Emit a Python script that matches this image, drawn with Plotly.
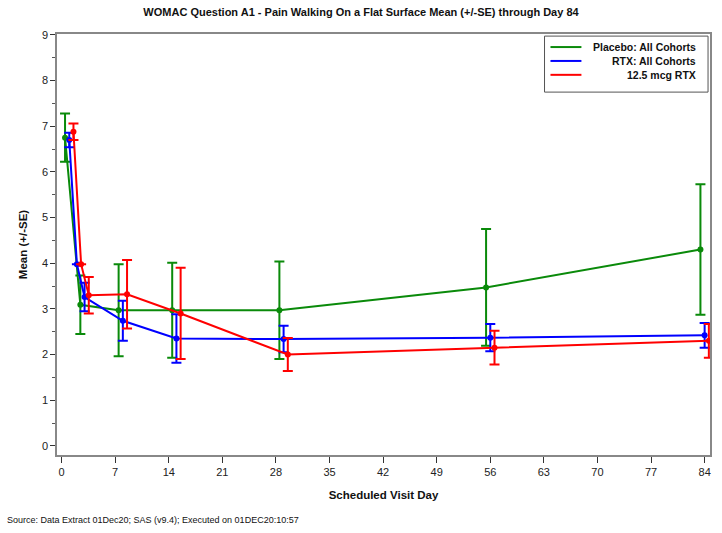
import plotly.graph_objects as go

# ---- data ----
series_names = ["Placebo: All Cohorts", "RTX: All Cohorts", "12.5 mcg RTX"]

placebo_days = [1, 3, 8, 15, 29, 56, 84]
placebo_mean = [6.75, 3.09, 2.97, 2.97, 2.97, 3.47, 4.30]
placebo_se = [0.53, 0.64, 1.01, 1.04, 1.07, 1.28, 1.43]

rtx_days = [1, 2, 3, 8, 15, 29, 56, 84]
rtx_mean = [6.70, 3.98, 3.26, 2.74, 2.35, 2.34, 2.37, 2.42]
rtx_se = [0.16, 0.0, 0.31, 0.44, 0.53, 0.29, 0.30, 0.27]

r125_days = [1, 2, 3, 8, 15, 29, 56, 84]
r125_mean = [6.88, 3.98, 3.30, 3.32, 2.90, 2.00, 2.15, 2.30]
r125_se = [0.18, 0.0, 0.40, 0.75, 1.00, 0.36, 0.37, 0.37]

x_ticks = [0, 7, 14, 21, 28, 35, 42, 49, 56, 63, 70, 77, 84]
y_ticks = [0, 1, 2, 3, 4, 5, 6, 7, 8, 9]

# ---- styling ----
colors = ["#0A8A0A", "#0000FF", "#FF0000"]
cluster_offset = [-0.55, 0.0, 0.55]
FONT = "Liberation Sans Narrow, Arial Narrow, Liberation Sans, Arial, sans-serif"

fig = go.Figure()
groups = [
    (placebo_days, placebo_mean, placebo_se),
    (rtx_days, rtx_mean, rtx_se),
    (r125_days, r125_mean, r125_se),
]
for i, (d, m, s) in enumerate(groups):
    fig.add_trace(go.Scatter(
        x=[v + cluster_offset[i] for v in d],
        y=m,
        mode="lines+markers",
        name=series_names[i],
        showlegend=False,
        line=dict(color=colors[i], width=2),
        marker=dict(color=colors[i], size=6, symbol="circle"),
        error_y=dict(type="data", array=s, visible=True, color=colors[i],
                     thickness=2, width=5),
    ))

fig.update_layout(
    width=722, height=533,
    margin=dict(l=57, r=10, t=34, b=78),
    paper_bgcolor="white", plot_bgcolor="white",
    font=dict(family=FONT, size=11, color="#222222"),
    title=dict(text="<b>WOMAC Question A1 - Pain Walking On a Flat Surface Mean (+/-SE) through Day 84</b>",
               x=0.5, xanchor="center", y=0.978, yanchor="middle",
               font=dict(family=FONT, size=11, color="#111111")),
    showlegend=False,
)

# custom legend box (line samples + right-aligned labels, as in the reference)
leg_x0, leg_x1, leg_y0, leg_y1 = 0.7466, 0.997, 0.862, 0.995
sample_x0, sample_x1, text_x = 0.7557, 0.8031, 0.9817
row_y = [0.969, 0.936, 0.903]
fig.add_shape(type="rect", xref="paper", yref="paper",
              x0=leg_x0, x1=leg_x1, y0=leg_y0, y1=leg_y1,
              line=dict(color="#555555", width=1), fillcolor="white", layer="above")
for i in range(3):
    fig.add_shape(type="line", xref="paper", yref="paper",
                  x0=sample_x0, x1=sample_x1, y0=row_y[i], y1=row_y[i],
                  line=dict(color=colors[i], width=2), layer="above")
    fig.add_annotation(text="<b>" + series_names[i] + "</b>", xref="paper", yref="paper",
                       x=text_x, y=row_y[i], xanchor="right", yanchor="middle",
                       showarrow=False, font=dict(family=FONT, size=10.5, color="#111111"))

fig.update_xaxes(
    range=[-0.6, 84.7], tickvals=x_ticks, ticktext=[str(t) for t in x_ticks],
    ticks="outside", ticklen=6, tickcolor="#333333", tickwidth=1,
    showline=True, linecolor="#888888", linewidth=1.5, mirror=True,
    showgrid=False, zeroline=False,
    tickfont=dict(family=FONT, size=11, color="#222222"),
    title=dict(text="<b>Scheduled Visit Day</b>", standoff=14,
               font=dict(family=FONT, size=11.5, color="#111111")),
)
fig.update_yaxes(
    range=[-0.2, 9.02], tickvals=y_ticks,
    ticks="outside", ticklen=5, tickcolor="#333333", tickwidth=1,
    minor=dict(dtick=0.5, ticks="outside", ticklen=3, tickcolor="#555555", showgrid=False),
    showline=True, linecolor="#888888", linewidth=1.5, mirror=True,
    showgrid=False, zeroline=False,
    tickfont=dict(family=FONT, size=11, color="#222222"),
    title=dict(text="<b>Mean (+/-SE)</b>", standoff=12,
               font=dict(family=FONT, size=11.5, color="#111111")),
)

fig.add_annotation(
    text="Source: Data Extract 01Dec20; SAS (v9.4); Executed on 01DEC20:10:57",
    xref="paper", yref="paper", x=-0.079, y=-0.155, xanchor="left", yanchor="middle",
    showarrow=False, font=dict(family=FONT, size=9, color="#111111"),
)

fig.write_html("out.html", config={"displayModeBar": False},
               post_script="document.body.style.margin='0px';")
